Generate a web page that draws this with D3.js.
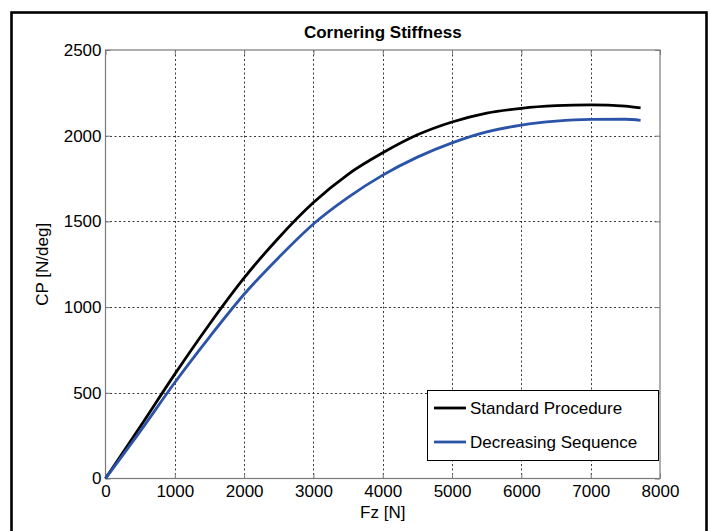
<!DOCTYPE html>
<html>
<head>
<meta charset="utf-8">
<script src="https://cdn.jsdelivr.net/npm/d3@7"></script>
<style>
  html, body { margin: 0; padding: 0; background: #fff; }
  svg { display: block; font-family: "Liberation Sans", Arial, sans-serif; }
</style>
</head>
<body>
<svg id="chart" width="710" height="531"></svg>
<script>
// Vertical load (N)
const fz = [0, 500, 1000, 1500, 2000, 2500, 3000, 3500, 4000, 4500, 5000, 5500, 6000, 6500, 7000, 7500, 7720];
// Cornering stiffness (N/deg)
const standardProcedure = [0, 302, 609, 900, 1170, 1405, 1610, 1775, 1900, 2005, 2080, 2132, 2160, 2175, 2180, 2173, 2162];
const decreasingSequence = [0, 275, 560, 825, 1075, 1290, 1485, 1640, 1770, 1875, 1958, 2022, 2062, 2085, 2095, 2096, 2090];

const xTicks = [0, 1000, 2000, 3000, 4000, 5000, 6000, 7000, 8000];
const yTicks = [0, 500, 1000, 1500, 2000, 2500];

const seriesNames = ["Standard Procedure", "Decreasing Sequence"];
const seriesColors = ["#000000", "#2b54a8"];

const svg = d3.select("#chart");
const plot = { left: 105.5, right: 660, top: 50, bottom: 478.5 };

const x = d3.scaleLinear().domain([0, 8000]).range([plot.left, plot.right]);
const y = d3.scaleLinear().domain([0, 2500]).range([plot.bottom, plot.top]);

// Figure frame
svg.append("rect")
  .attr("x", 11.5).attr("y", 12.5)
  .attr("width", 695).attr("height", 540)
  .attr("fill", "none").attr("stroke", "#000").attr("stroke-width", 2.6);

// Dotted grid
const grid = svg.append("g").attr("stroke", "#222").attr("stroke-width", 0.9)
  .attr("stroke-dasharray", "2,2.5");
grid.selectAll("line.gx").data(xTicks.slice(1, -1)).join("line")
  .attr("x1", d => Math.round(x(d)) + 0.5).attr("x2", d => Math.round(x(d)) + 0.5)
  .attr("y1", plot.top).attr("y2", plot.bottom);
grid.selectAll("line.gy").data(yTicks.slice(1, -1)).join("line")
  .attr("x1", plot.left).attr("x2", plot.right)
  .attr("y1", d => Math.round(y(d)) + 0.5).attr("y2", d => Math.round(y(d)) + 0.5);

// Axes (ticks pointing inward, labels only on bottom/left)
const axisColor = "#7a7a7a";
function styleAxis(g) {
  g.select(".domain").remove();
  g.selectAll(".tick line").attr("stroke", axisColor);
  g.selectAll(".tick text").attr("fill", "#000").attr("font-size", 17);
}
svg.append("g").attr("transform", `translate(0,${plot.bottom})`)
  .call(d3.axisBottom(x).tickValues(xTicks).tickFormat(d3.format("d")).tickSizeInner(-5).tickSizeOuter(0).tickPadding(6))
  .call(styleAxis)
  .call(g => g.selectAll(".tick text").attr("dy", "0.78em").attr("y", 5));
svg.append("g").attr("transform", `translate(0,${plot.top})`)
  .call(d3.axisTop(x).tickValues(xTicks).tickFormat("").tickSizeInner(-5).tickSizeOuter(0))
  .call(styleAxis);
svg.append("g").attr("transform", `translate(${plot.left},0)`)
  .call(d3.axisLeft(y).tickValues(yTicks).tickFormat(d3.format("d")).tickSizeInner(-5).tickSizeOuter(0))
  .call(styleAxis)
  .call(g => g.selectAll(".tick text").attr("x", -4));
svg.append("g").attr("transform", `translate(${plot.right},0)`)
  .call(d3.axisRight(y).tickValues(yTicks).tickFormat("").tickSizeInner(-5).tickSizeOuter(0))
  .call(styleAxis);

// Axes box
svg.append("rect")
  .attr("x", plot.left).attr("y", plot.top)
  .attr("width", plot.right - plot.left).attr("height", plot.bottom - plot.top)
  .attr("fill", "none").attr("stroke", axisColor).attr("stroke-width", 1.2);

// Curves
const line = d3.line().x((d, i) => x(fz[i])).y(d => y(d)).curve(d3.curveMonotoneX);
[standardProcedure, decreasingSequence].forEach((vals, k) => {
  svg.append("path").datum(vals)
    .attr("d", line)
    .attr("fill", "none")
    .attr("stroke", seriesColors[k])
    .attr("stroke-width", 2.8)
    .attr("stroke-linejoin", "round");
});

// Title and axis labels
svg.append("text").attr("x", (plot.left + plot.right) / 2).attr("y", 38)
  .attr("text-anchor", "middle").attr("font-size", 17).attr("font-weight", "bold")
  .text("Cornering Stiffness");
svg.append("text").attr("x", (plot.left + plot.right) / 2).attr("y", 518)
  .attr("text-anchor", "middle").attr("font-size", 17)
  .text("Fz [N]");
svg.append("text")
  .attr("transform", `translate(48,${(plot.top + plot.bottom) / 2}) rotate(-90)`)
  .attr("text-anchor", "middle").attr("font-size", 17)
  .text("CP [N/deg]");

// Legend
const legend = svg.append("g");
legend.append("rect")
  .attr("x", 427.5).attr("y", 390.5).attr("width", 231).attr("height", 70)
  .attr("fill", "#fff").attr("stroke", "#000").attr("stroke-width", 1);
seriesNames.forEach((name, k) => {
  const cy = 408 + k * 34;
  legend.append("line")
    .attr("x1", 434).attr("x2", 466).attr("y1", cy).attr("y2", cy)
    .attr("stroke", seriesColors[k]).attr("stroke-width", 2.8);
  legend.append("text").attr("x", 470).attr("y", cy).attr("dy", "0.35em")
    .attr("font-size", 17).text(name);
});
</script>
</body>
</html>
